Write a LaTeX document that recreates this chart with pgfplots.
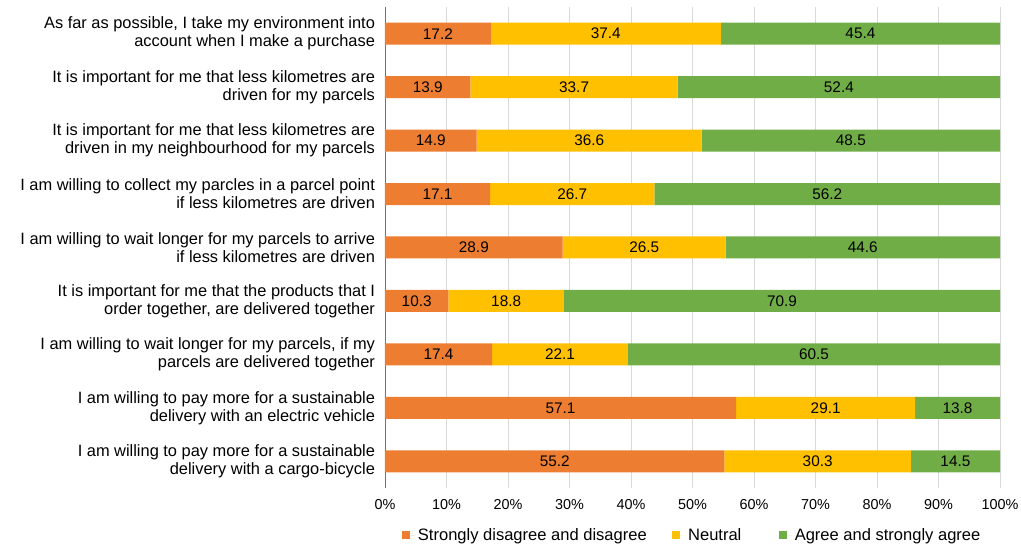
\documentclass[border=0pt]{standalone}
\usepackage{pgfplots}
\pgfplotsset{compat=1.18}
\usepackage{fontspec}
\setmainfont{Liberation Sans}
\definecolor{cOr}{HTML}{ED7D31}
\definecolor{cYe}{HTML}{FFC000}
\definecolor{cGr}{HTML}{70AD47}
\begin{document}
\begin{tikzpicture}
\path[use as bounding box] (0,0) rectangle (765.75pt,408.75pt);
\begin{axis}[
  at={(288.75pt,42.75pt)}, anchor=south west,
  scale only axis, width=461.25pt, height=360.75pt,
  xbar stacked, bar width=16.5pt,
  xmin=0, xmax=100, ymin=-0.5, ymax=8.5, y dir=reverse,
  xtick={0,10,...,100},
  xticklabel={\pgfmathprintnumber[assume math mode=true]{\tick}\%},
  xticklabel style={font=\fontsize{10.8}{12}\selectfont, yshift=-5pt},
  ytick={0,...,8},
  yticklabels={
    {As far as possible, I take my environment into\\account when I make a purchase},
    {It is important for me that less kilometres are\\driven for my parcels},
    {It is important for me that less kilometres are\\driven in my neighbourhood for my parcels},
    {I am willing to collect my parcles in a parcel point\\if less kilometres are driven},
    {I am willing to wait longer for my parcels to arrive\\if less kilometres are driven},
    {It is important for me that the products that I\\order together, are delivered together},
    {I am willing to wait longer for my parcels, if my\\parcels are delivered together},
    {I am willing to pay more for a sustainable\\delivery with an electric vehicle},
    {I am willing to pay more for a sustainable\\delivery with a cargo-bicycle}},
  yticklabel style={align=right, font=\fontsize{12.3}{13.5}\selectfont, xshift=-4pt},
  major tick length=0pt,
  axis line style={draw=none},
  xmajorgrids, grid style={draw=black!15},
  extra x ticks={0}, extra x tick labels={},
  extra x tick style={grid style={draw=black!55}},
  nodes near coords={\pgfmathprintnumber[fixed,fixed zerofill,precision=1,assume math mode=true]{\pgfplotspointmeta}},
  point meta=explicit,
  every node near coord/.append style={font=\fontsize{11.5}{13}\selectfont, text=black},
  legend style={at={(0,0)}, anchor=west, xshift=9.5pt, yshift=-35.5pt, draw=none,
    font=\fontsize{12.4}{14}\selectfont, legend columns=3,
    /tikz/every even column/.append style={column sep=17pt}},
  legend image code/.code={\fill[#1] (0pt,-3pt) rectangle (6pt,3pt); \path (0pt,0pt) -- (10pt,0pt);},
]
\addplot[fill=cOr, draw=none] coordinates {(17.2,0)[17.2] (13.9,1)[13.9] (14.9,2)[14.9] (17.1,3)[17.1] (28.9,4)[28.9] (10.3,5)[10.3] (17.4,6)[17.4] (57.1,7)[57.1] (55.2,8)[55.2]};
\addplot[fill=cYe, draw=none] coordinates {(37.4,0)[37.4] (33.7,1)[33.7] (36.6,2)[36.6] (26.7,3)[26.7] (26.5,4)[26.5] (18.8,5)[18.8] (22.1,6)[22.1] (29.1,7)[29.1] (30.3,8)[30.3]};
\addplot[fill=cGr, draw=none] coordinates {(45.4,0)[45.4] (52.4,1)[52.4] (48.5,2)[48.5] (56.2,3)[56.2] (44.6,4)[44.6] (70.9,5)[70.9] (60.5,6)[60.5] (13.8,7)[13.8] (14.5,8)[14.5]};
\legend{Strongly disagree and disagree, Neutral\hspace*{9pt}, Agree and strongly agree}
\end{axis}
\end{tikzpicture}
\end{document}
